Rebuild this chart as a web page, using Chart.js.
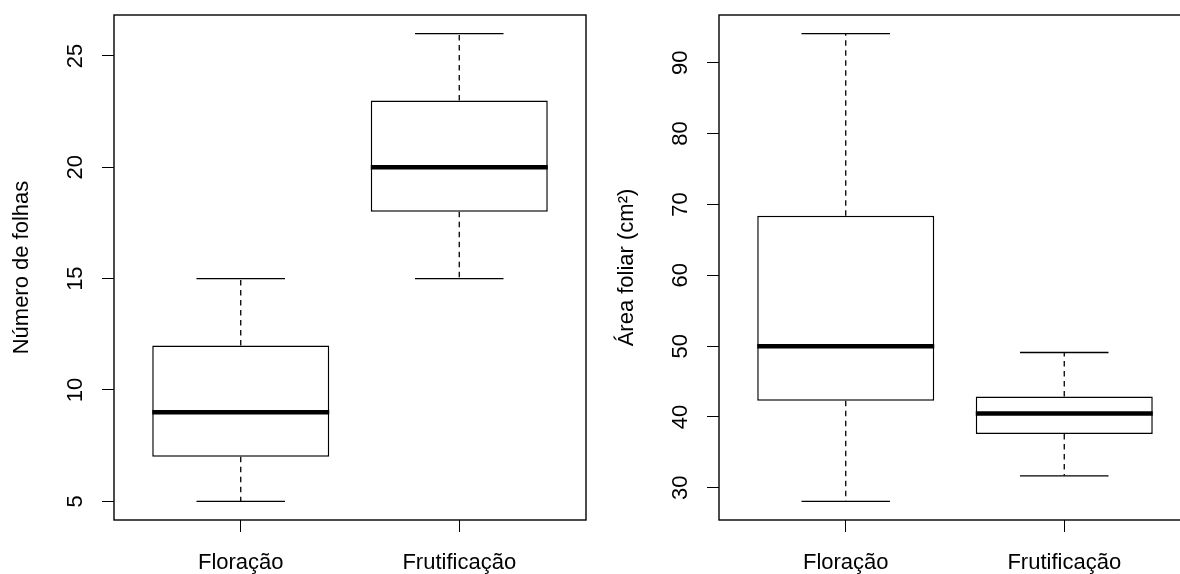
<!DOCTYPE html>
<html>
<head>
<meta charset="utf-8">
<script src="https://cdn.jsdelivr.net/npm/chart.js@4/dist/chart.umd.min.js"></script>
<style>
   html, body { margin: 0; padding: 0; background: #fff; overflow: hidden; }
   .panel { position: absolute; top: 0; width: 605px; height: 574px; }
</style>
</head>
<body>
<div class="panel" style="left:0"><canvas id="folhas" width="605" height="574"></canvas></div>
<div class="panel" style="left:605px"><canvas id="area" width="605" height="574"></canvas></div>
<script>
const categories = ['Floração', 'Frutificação']

// Número de folhas: mínimo, 1º quartil, mediana, 3º quartil, máximo
const folhasMin = [5, 15]
const folhasQ1 = [7, 18]
const folhasMedian = [9, 20]
const folhasQ3 = [12, 23]
const folhasMax = [15, 26]
const folhasTicks = [5, 10, 15, 20, 25]

// Área foliar (cm²)
const areaMin = [28.1, 31.7]
const areaQ1 = [42.3, 37.6]
const areaMedian = [50, 40.5]
const areaQ3 = [68.4, 42.9]
const areaMax = [94.1, 49.1]
const areaTicks = [30, 40, 50, 60, 70, 80, 90]

const font = { family: "'Liberation Sans', Arial, sans-serif", size: 22 }
const ink = '#000'

const line = (ctx, x1, y1, x2, y2) => {
   ctx.beginPath()
   ctx.moveTo(x1, y1)
   ctx.lineTo(x2, y2)
   ctx.stroke()
}

// bigodes, mediana e moldura estilo R
const boxPlot = {
   id: 'boxPlot',
   afterDatasetsDraw(chart, args, opts) {
      const { ctx, chartArea } = chart
      const { x, y } = chart.scales
      const bars = chart.getDatasetMeta(0).data
      ctx.save()
      ctx.strokeStyle = ink
      bars.forEach((bar, i) => {
         const cx = x.getPixelForValue(i + 1)
         const half = bar.width / 2
         const yMin = y.getPixelForValue(opts.min[i])
         const yMax = y.getPixelForValue(opts.max[i])
         ctx.lineWidth = 1.3
         ctx.setLineDash([5.5, 4.5])
         line(ctx, cx, bar.base, cx, yMin)
         line(ctx, cx, bar.y, cx, yMax)
         ctx.setLineDash([])
         line(ctx, cx - half / 2, yMin, cx + half / 2, yMin)
         line(ctx, cx - half / 2, yMax, cx + half / 2, yMax)
         ctx.lineWidth = 4.5
         const yMed = y.getPixelForValue(opts.median[i])
         line(ctx, cx - half, yMed, cx + half, yMed)
      })
      ctx.lineWidth = 1.4
      ctx.strokeRect(chartArea.left, chartArea.top, chartArea.right - chartArea.left, chartArea.bottom - chartArea.top)
      ctx.restore()
   }
}

const makeBoxChart = (id, title, min, q1, median, q3, max, ticks) => {
   // limites como no R: faixa dos dados + 4%
   const lo = Math.min(...min)
   const hi = Math.max(...max)
   const pad = (hi - lo) * 0.04
   const n = categories.length
   return new Chart(document.getElementById(id), {
      type: 'bar',
      data: {
         datasets: [{
            data: categories.map((c, i) => ({ x: i + 1, y: [q1[i], q3[i]] })),
            backgroundColor: '#fff',
            borderColor: ink,
            borderWidth: 1.5,
            borderSkipped: false,
            barPercentage: 0.81,
            categoryPercentage: 1
         }]
      },
      options: {
         responsive: false,
         animation: false,
         events: [],
         layout: { padding: { top: 15, right: 19, left: 0, bottom: 0 } },
         plugins: {
            legend: { display: false },
            tooltip: { enabled: false },
            boxPlot: { min, median, max }
         },
         scales: {
            x: {
               type: 'linear',
               offset: false,
               min: 0.5 - n * 0.04,
               max: n + 0.5 + n * 0.04,
               afterBuildTicks: s => { s.ticks = categories.map((c, i) => ({ value: i + 1 })) },
               afterFit: s => {
                  s.height = 54
                  s.paddingLeft = 0
                  s.paddingRight = 0
               },
               grid: { offset: false, drawOnChartArea: false, tickLength: 12, color: ink, lineWidth: 1 },
               border: { display: false },
               ticks: {
                  font, color: ink, padding: 18, maxRotation: 0, autoSkip: false,
                  callback: v => categories[v - 1]
               }
            },
            y: {
               min: lo - pad,
               max: hi + pad,
               afterBuildTicks: s => { s.ticks = ticks.map(v => ({ value: v })) },
               afterFit: s => {
                  s.width = 114
                  s.paddingTop = 0
                  s.paddingBottom = 0
               },
               grid: { drawOnChartArea: false, tickLength: 12, color: ink, lineWidth: 1 },
               border: { display: false },
               ticks: {
                  font, color: ink, padding: 14, minRotation: 90, maxRotation: 90,
                  crossAlign: 'center', autoSkip: false
               },
               title: { display: true, text: title, font, color: ink, padding: { top: 9, bottom: 0 } }
            }
         }
      },
      plugins: [boxPlot]
   })
}

makeBoxChart('folhas', 'Número de folhas', folhasMin, folhasQ1, folhasMedian, folhasQ3, folhasMax, folhasTicks)
makeBoxChart('area', 'Área foliar (cm²)', areaMin, areaQ1, areaMedian, areaQ3, areaMax, areaTicks)
</script>
</body>
</html>
